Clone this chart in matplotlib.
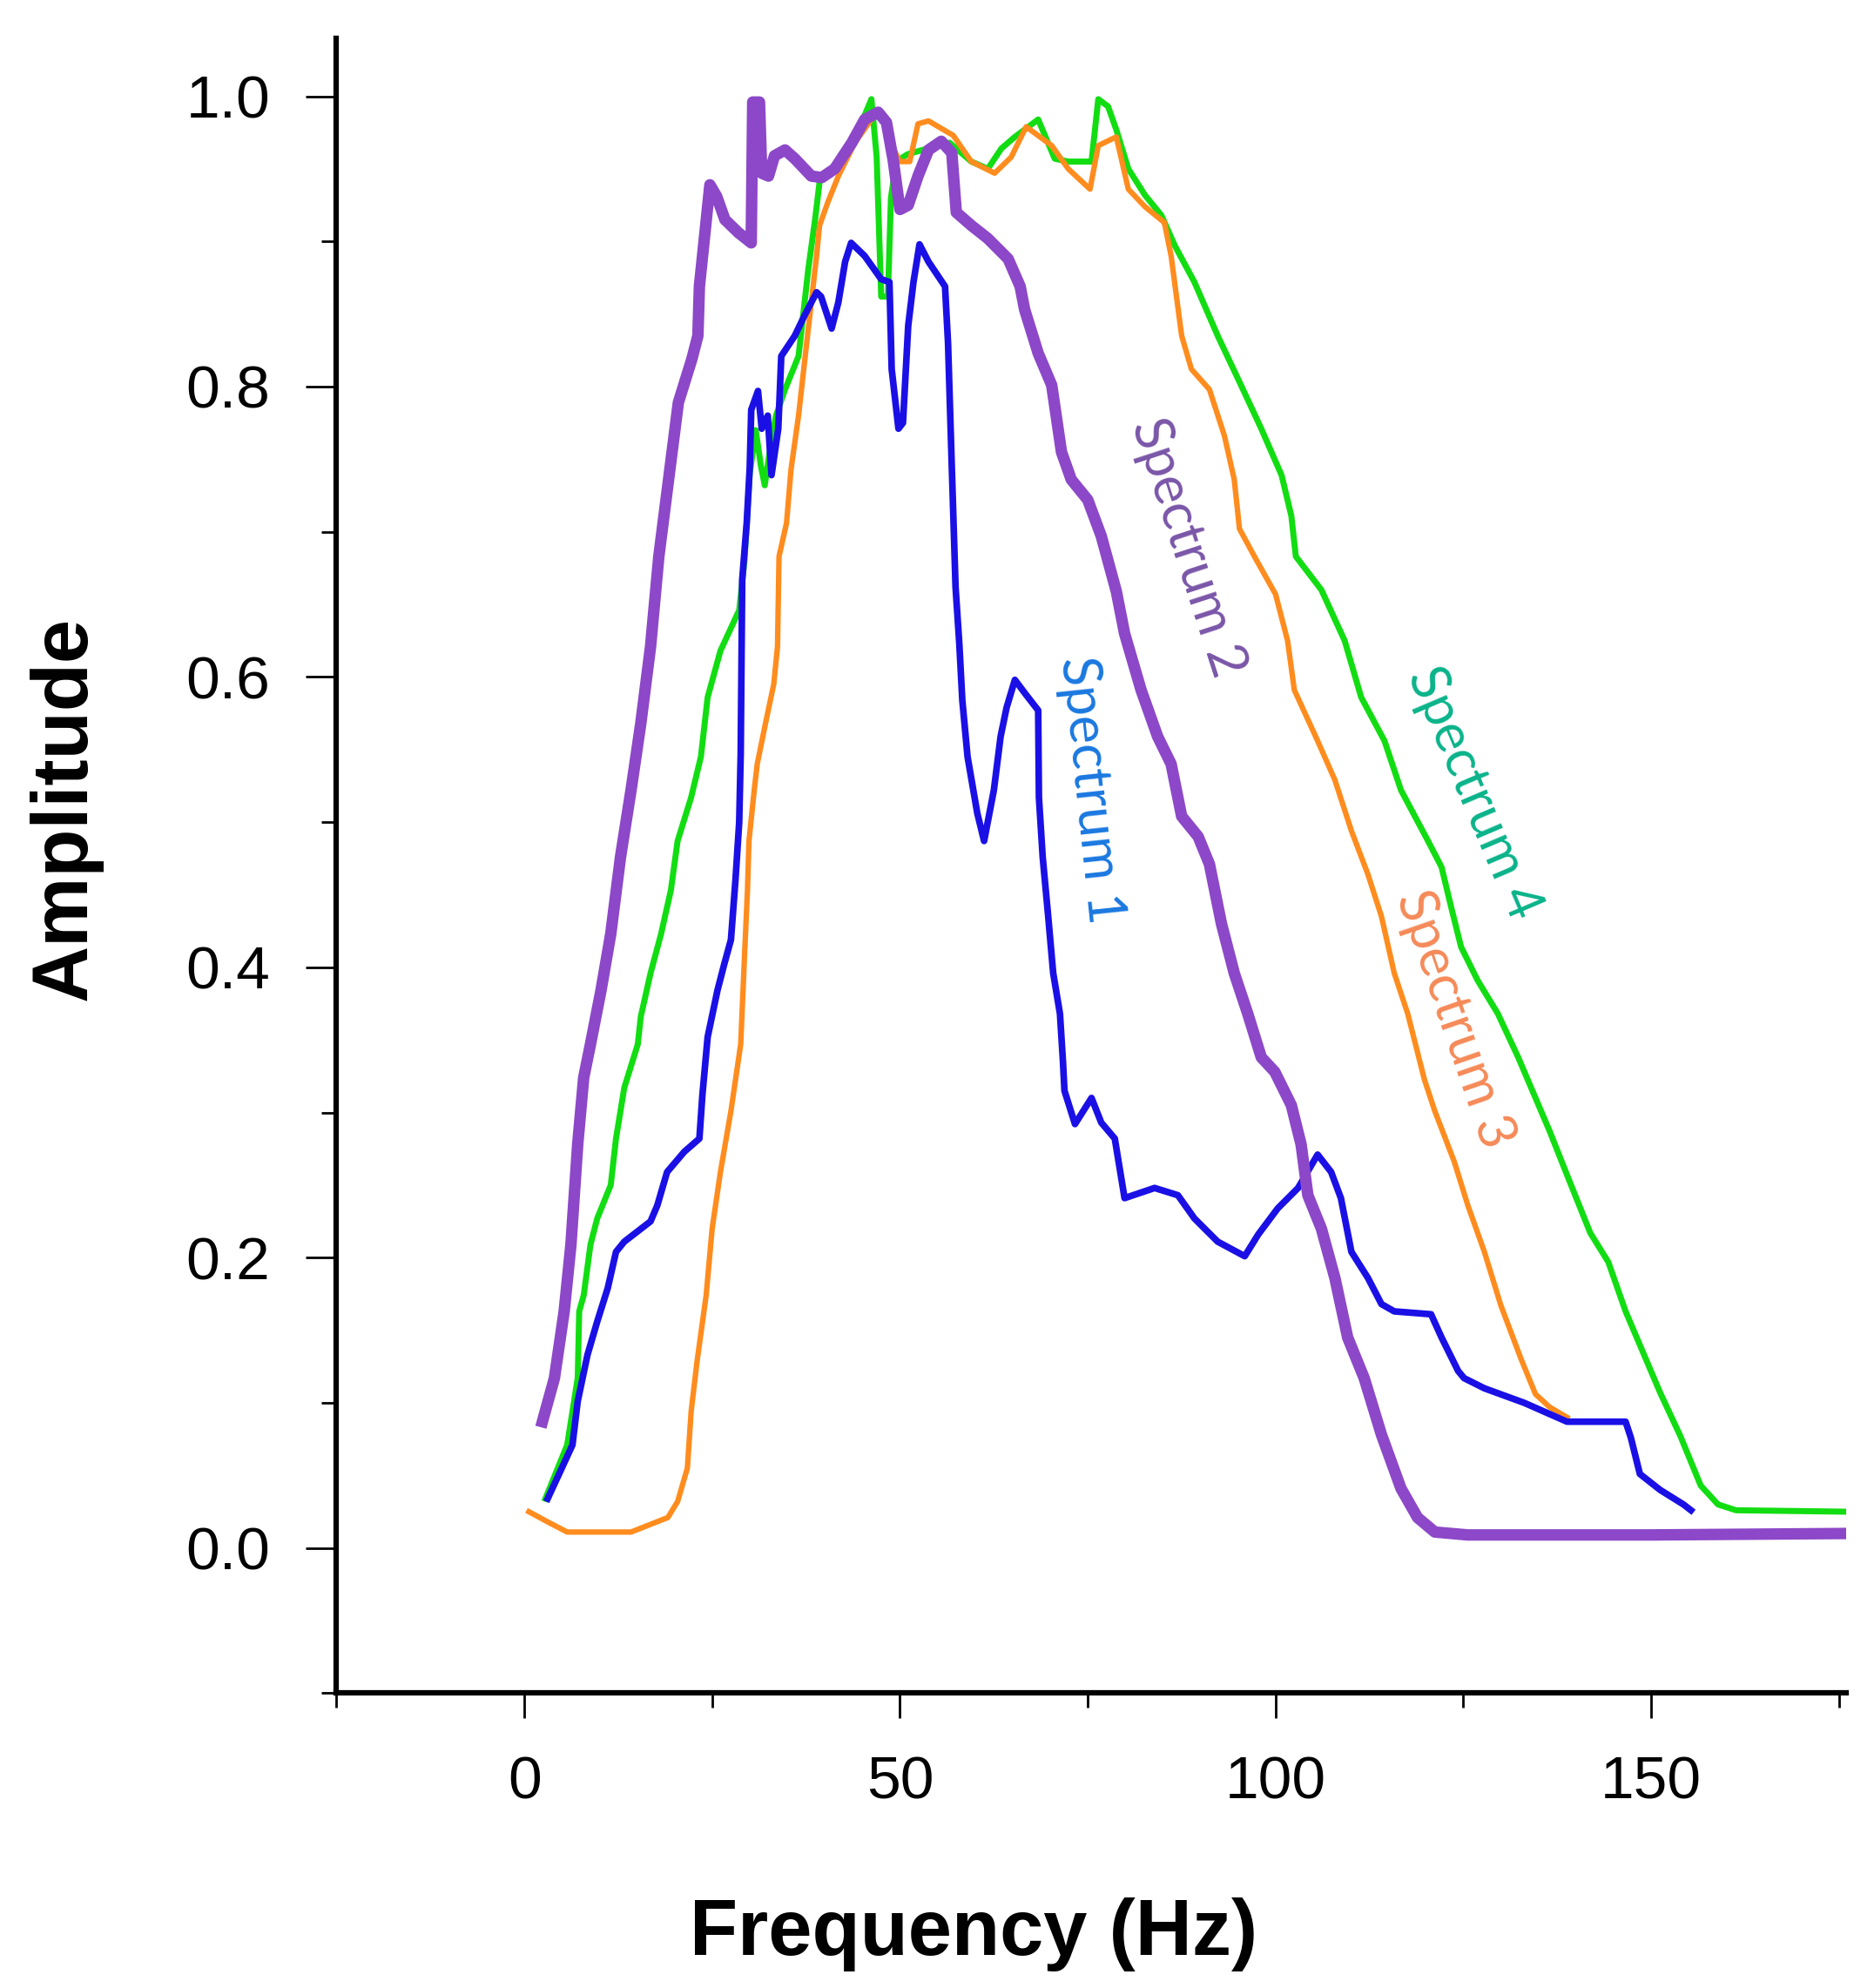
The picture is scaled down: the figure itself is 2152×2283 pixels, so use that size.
import matplotlib
matplotlib.use('Agg')
import matplotlib.pyplot as plt

# Spectrum 1 (blue)
freq1 = [3.1, 4.8, 6.4, 7.1, 8.4, 9.7, 11.1, 12.2, 13.3, 16.8, 17.7, 19.0, 21.3, 23.3, 23.7,
         24.4, 25.7, 26.6, 27.5, 28.1, 28.6, 28.8, 29.0, 29.6, 30.0, 30.2, 31.1, 31.6, 32.4,
         32.9, 33.8, 34.2, 36.0, 37.3, 38.9, 39.5, 40.9, 41.8, 42.7, 43.5, 45.3, 47.5, 48.6,
         48.9, 49.8, 50.4, 51.1, 51.8, 52.6, 53.8, 56.0, 56.4, 56.9, 57.4, 57.9, 58.3, 59.0,
         60.3, 61.2, 62.5, 63.4, 64.2, 65.3, 66.6, 68.4, 68.5, 69.0, 69.7, 70.4, 71.3, 71.7,
         71.9, 73.3, 75.5, 76.8, 78.6, 79.9, 83.9, 87.0, 89.2, 92.3, 95.9, 97.7, 100.3, 103.0,
         105.6, 107.4, 108.7, 110.1, 112.3, 114.1, 115.8, 120.7, 122.1, 124.3, 125.1, 127.8,
         133.1, 138.8, 146.6, 147.3, 148.5, 151.2, 154.3, 155.3]
amp1 = [0.034, 0.053, 0.071, 0.101, 0.133, 0.156, 0.179, 0.204, 0.211, 0.225, 0.236, 0.259,
        0.273, 0.282, 0.312, 0.352, 0.384, 0.402, 0.419, 0.460, 0.500, 0.547, 0.667, 0.706,
        0.744, 0.784, 0.797, 0.771, 0.780, 0.739, 0.771, 0.821, 0.835, 0.849, 0.865, 0.862,
        0.840, 0.858, 0.886, 0.899, 0.890, 0.874, 0.872, 0.812, 0.771, 0.775, 0.842, 0.872,
        0.898, 0.886, 0.869, 0.830, 0.745, 0.662, 0.623, 0.584, 0.545, 0.506, 0.487, 0.522,
        0.559, 0.579, 0.598, 0.589, 0.577, 0.517, 0.476, 0.437, 0.396, 0.368, 0.335, 0.315,
        0.292, 0.310, 0.293, 0.282, 0.241, 0.248, 0.243, 0.227, 0.211, 0.201, 0.216, 0.234,
        0.248, 0.271, 0.259, 0.241, 0.204, 0.186, 0.168, 0.163, 0.161, 0.145, 0.122, 0.117,
        0.110, 0.100, 0.087, 0.087, 0.076, 0.051, 0.040, 0.030, 0.026]

# Spectrum 2 (purple)
freq2 = [2.4, 4.0, 5.3, 6.2, 7.1, 7.9, 8.8, 10.2, 11.5, 12.8, 14.2, 15.5, 16.8, 17.9, 19.1,
         20.5, 22.3, 23.1, 23.3, 24.0, 24.7, 25.6, 26.7, 28.5, 30.2, 30.4, 31.3, 31.6, 32.5,
         33.3, 34.7, 36.0, 38.2, 39.6, 41.3, 43.6, 45.3, 47.1, 48.2, 49.1, 50.0, 51.1, 52.4,
         53.8, 55.5, 56.9, 57.5, 59.5, 61.7, 64.4, 66.0, 66.6, 68.4, 70.2, 71.5, 72.8, 75.0,
         76.8, 78.8, 79.9, 82.1, 84.3, 86.1, 87.5, 89.7, 91.2, 92.8, 94.5, 96.3, 98.1, 99.9,
         102.1, 103.4, 104.3, 106.1, 107.9, 109.6, 111.8, 114.1, 116.7, 118.9, 121.2, 125.6,
         150.0, 176.0]
amp2 = [0.087, 0.117, 0.163, 0.209, 0.278, 0.324, 0.347, 0.384, 0.423, 0.476, 0.522, 0.568,
        0.621, 0.683, 0.732, 0.789, 0.819, 0.835, 0.869, 0.904, 0.939, 0.931, 0.915, 0.906,
        0.899, 0.996, 0.996, 0.947, 0.945, 0.959, 0.963, 0.957, 0.945, 0.944, 0.950, 0.968,
        0.984, 0.989, 0.982, 0.956, 0.922, 0.925, 0.945, 0.963, 0.969, 0.961, 0.920, 0.911,
        0.902, 0.888, 0.869, 0.853, 0.823, 0.801, 0.755, 0.736, 0.722, 0.697, 0.659, 0.630,
        0.591, 0.559, 0.540, 0.504, 0.490, 0.471, 0.430, 0.396, 0.368, 0.338, 0.328, 0.305,
        0.278, 0.243, 0.220, 0.186, 0.145, 0.117, 0.078, 0.041, 0.021, 0.011, 0.009, 0.009,
        0.010]

# Spectrum 3 (orange)
freq3 = [0.6, 3.1, 5.7, 14.2, 19.1, 20.4, 21.7, 22.2, 23.0, 24.2, 25.0, 26.1, 27.5, 28.8,
         29.3, 29.7, 29.9, 30.6, 31.0, 32.1, 33.2, 33.7, 33.9, 34.9, 35.5, 36.5, 37.3, 38.2,
         38.9, 39.3, 40.4, 41.8, 44.0, 46.2, 47.5, 48.9, 50.0, 51.3, 52.4, 53.8, 57.1, 59.5,
         62.6, 64.8, 66.8, 70.2, 72.4, 75.3, 76.4, 78.8, 80.4, 82.6, 85.2, 86.1, 87.5, 88.8,
         91.2, 93.2, 94.5, 95.2, 97.4, 100.0, 101.6, 102.5, 105.6, 107.9, 110.1, 112.3, 114.1,
         115.8, 117.6, 119.8, 121.2, 123.8, 125.6, 127.8, 130.0, 132.7, 134.6, 136.5, 138.8]
amp3 = [0.025, 0.018, 0.011, 0.011, 0.021, 0.032, 0.055, 0.094, 0.129, 0.174, 0.220, 0.259,
        0.301, 0.347, 0.407, 0.453, 0.487, 0.522, 0.540, 0.568, 0.595, 0.621, 0.683, 0.706,
        0.743, 0.780, 0.817, 0.858, 0.890, 0.911, 0.927, 0.945, 0.968, 0.984, 0.989, 0.966,
        0.955, 0.955, 0.981, 0.983, 0.973, 0.955, 0.947, 0.958, 0.979, 0.966, 0.950, 0.936,
        0.966, 0.972, 0.936, 0.924, 0.913, 0.890, 0.835, 0.812, 0.798, 0.766, 0.736, 0.702,
        0.681, 0.657, 0.625, 0.591, 0.556, 0.529, 0.494, 0.464, 0.435, 0.396, 0.368, 0.323,
        0.301, 0.266, 0.236, 0.204, 0.167, 0.130, 0.106, 0.097, 0.090]

# Spectrum 4 (green)
freq4 = [2.8, 5.7, 7.1, 7.3, 7.9, 8.8, 9.7, 11.5, 12.2, 13.3, 15.1, 15.5, 16.8, 18.2, 19.5,
         20.4, 22.2, 23.5, 24.4, 26.1, 28.6, 29.3, 30.0, 30.8, 31.5, 32.0, 32.8, 33.5, 34.7,
         36.5, 37.8, 38.7, 39.3, 40.9, 43.6, 46.2, 46.9, 47.5, 48.4, 48.8, 49.5, 51.0, 53.0,
         56.6, 59.5, 61.7, 63.5, 65.3, 68.4, 70.6, 72.4, 75.5, 76.4, 77.7, 78.8, 80.4, 82.6,
         84.8, 86.6, 89.2, 92.3, 95.4, 98.1, 100.8, 102.1, 102.7, 106.1, 109.2, 111.4, 114.5,
         116.7, 120.3, 122.1, 123.4, 124.7, 126.9, 129.6, 132.3, 136.5, 138.8, 141.9, 144.3,
         146.6, 148.9, 151.2, 153.9, 156.6, 158.9, 161.3, 176.0]
amp4 = [0.034, 0.071, 0.117, 0.163, 0.174, 0.209, 0.227, 0.250, 0.282, 0.317, 0.347, 0.366,
        0.396, 0.423, 0.453, 0.487, 0.517, 0.545, 0.586, 0.618, 0.646, 0.680, 0.740, 0.770,
        0.745, 0.732, 0.760, 0.780, 0.798, 0.821, 0.881, 0.915, 0.941, 0.950, 0.966, 0.998,
        0.958, 0.862, 0.862, 0.930, 0.955, 0.960, 0.963, 0.968, 0.955, 0.950, 0.964, 0.972,
        0.984, 0.957, 0.955, 0.955, 0.998, 0.993, 0.977, 0.950, 0.932, 0.918, 0.897, 0.872,
        0.835, 0.801, 0.771, 0.739, 0.711, 0.683, 0.660, 0.625, 0.586, 0.556, 0.522, 0.487,
        0.469, 0.441, 0.414, 0.391, 0.368, 0.338, 0.287, 0.257, 0.217, 0.197, 0.163, 0.135,
        0.107, 0.077, 0.043, 0.030, 0.026, 0.025]

x_major = [0, 50, 100, 150]
x_minor = [-25, 25, 75, 125, 175]
y_major = [0.0, 0.2, 0.4, 0.6, 0.8, 1.0]
y_minor = [-0.1, 0.1, 0.3, 0.5, 0.7, 0.9]

fig = plt.figure(figsize=(21.52, 22.83), dpi=100)
ax = fig.add_axes([0.1796, 0.1483, 0.8057, 0.8325])

ax.plot(freq4, amp4, color='#12dd12', linewidth=5, zorder=2)
ax.plot(freq3, amp3, color='#ff8c1e', linewidth=4.5, zorder=3)
ax.plot(freq1, amp1, color='#1a10e6', linewidth=5.5, zorder=4)
ax.plot(freq2, amp2, color='#8c48c8', linewidth=9.5, zorder=5, solid_joinstyle='round')

ax.set_xlim(-25, 176)
ax.set_ylim(-0.1, 1.04)

ax.spines['top'].set_visible(False)
ax.spines['right'].set_visible(False)
ax.spines['left'].set_linewidth(4.5)
ax.spines['bottom'].set_linewidth(4.5)

ax.set_xticks(x_major)
ax.set_xticks(x_minor, minor=True)
ax.set_xticklabels([str(v) for v in x_major])
ax.set_yticks(y_major)
ax.set_yticks(y_minor, minor=True)
ax.set_yticklabels(['%.1f' % v for v in y_major])

tick_font = 'Liberation Sans'
ax.tick_params(axis='y', which='major', direction='out', length=25, width=2, pad=30, labelsize=50)
ax.tick_params(axis='y', which='minor', direction='out', length=12, width=2)
ax.tick_params(axis='x', which='major', direction='out', length=21, width=2, pad=30, labelsize=50)
ax.tick_params(axis='x', which='minor', direction='out', length=12, width=2)
for lab in ax.get_xticklabels() + ax.get_yticklabels():
    lab.set_family(tick_font)

fig.text(0.0348, 0.5935, 'Amplitude', rotation=90, ha='center', va='center',
         fontsize=65, fontweight='bold', family='Liberation Sans')
fig.text(0.5195, 0.027, 'Frequency (Hz)', ha='center', va='center',
         fontsize=65, fontweight='bold', family='Liberation Sans')

# curve labels
label_font = ['Lato', 'DejaVu Sans']
ax.text(75.4, 0.522, 'Spectrum 1', color='#1a78e0', rotation=-84, ha='center', va='center',
        rotation_mode='anchor', fontsize=44, family=label_font)
ax.text(88.3, 0.689, 'Spectrum 2', color='#7a56a8', rotation=-72, ha='center', va='center',
        rotation_mode='anchor', fontsize=44, family=label_font)
ax.text(123.8, 0.364, 'Spectrum 3', color='#f58a58', rotation=-71, ha='center', va='center',
        rotation_mode='anchor', fontsize=44, family=label_font)
ax.text(126.4, 0.520, 'Spectrum 4', color='#0ab38a', rotation=-67, ha='center', va='center',
        rotation_mode='anchor', fontsize=44, family=label_font)

fig.savefig('out.png', dpi=100)
